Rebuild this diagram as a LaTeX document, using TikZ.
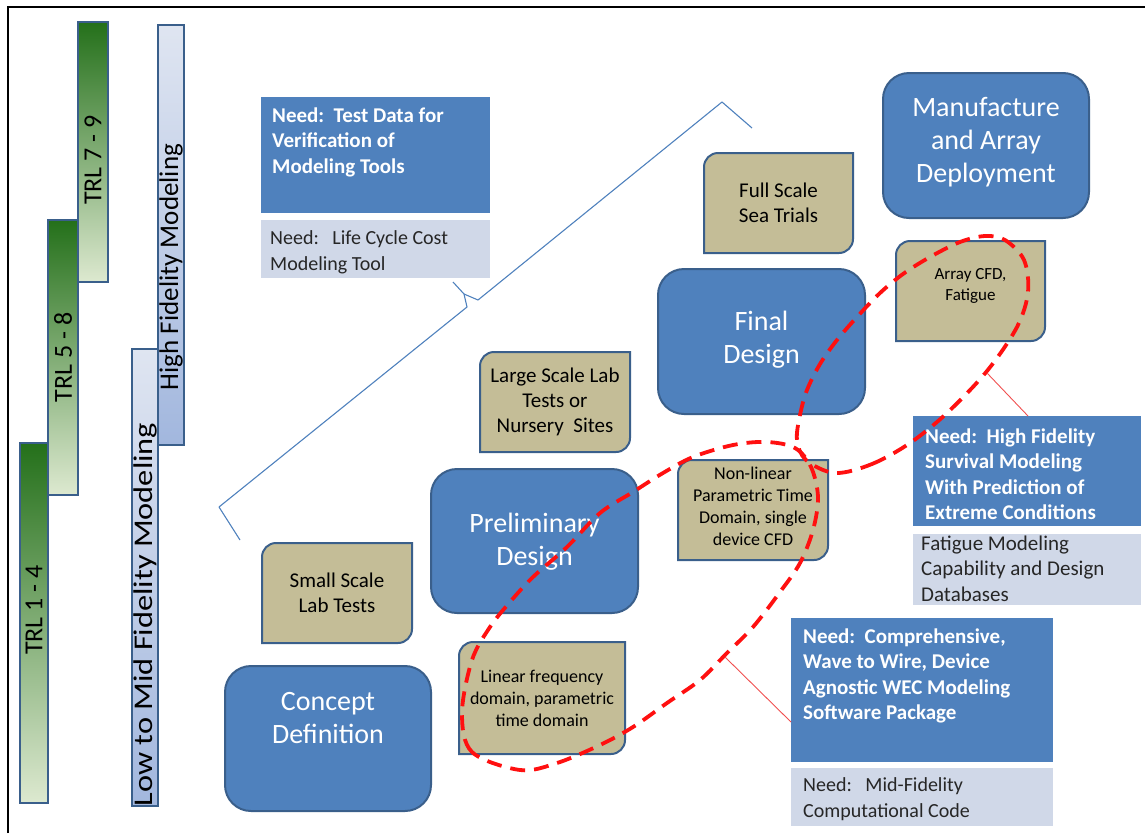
\documentclass[tikz,border=0pt]{standalone}
\usepackage{fontspec}
\setmainfont{Carlito}
\definecolor{wecblue}{HTML}{4F81BD}
\definecolor{edgeblue}{HTML}{3A5F8B}
\definecolor{tanfill}{HTML}{C4BD97}
\definecolor{lightneed}{HTML}{D0D8E8}
\definecolor{trldark}{HTML}{24701A}
\definecolor{trlmid}{HTML}{86AA62}
\definecolor{trllight}{HTML}{DDE9D0}
\definecolor{fidtop}{HTML}{DFE5F1}
\definecolor{fidbot}{HTML}{A2B7DE}
\definecolor{loopred}{HTML}{FF1010}
\definecolor{calloutred}{HTML}{F05050}
\newcommand\needpar[5]{\parbox[t][#2][t]{#1}{\leftskip=#3\relax\vspace*{#4}\strut #5}}
\newcommand\stagepar[4]{\parbox[t][#2][t]{#1}{\centering\vspace*{#3}\strut #4}}
\newcommand\tanbox[7]{%
  \draw[tanline] (#2,#5) -- (#2,#3+14) arc[start angle=180,end angle=270,radius=14]
     -- (#4,#3) -- (#4,#5-14) arc[start angle=0,end angle=90,radius=14] -- cycle;
  \node[tantext,#7] (#1) at ({(#2+#4)/2},{(#3+#5)/2}) {#6};}
\tikzset{
  stage/.style={draw=edgeblue, line width=2pt, fill=wecblue, rounded corners=26pt,
     text=white, font=\fontsize{28}{33}\selectfont, inner sep=0pt, anchor=north west},
  tanline/.style={draw=edgeblue, line width=2pt, fill=tanfill},
  tantext/.style={align=center, text=black, inner sep=0pt},
  bigtan/.style={font=\fontsize{21}{25}\selectfont},
  smalltan/.style={font=\fontsize{18}{22}\selectfont},
  needdark/.style={fill=wecblue, text=white, font=\bfseries\fontsize{21}{25.5}\selectfont,
     inner sep=0pt, anchor=north west},
  needlight/.style={fill=lightneed, text=black!85, font=\fontsize{20}{25.5}\selectfont,
     inner sep=0pt, anchor=north west},
  trlbar/.style={draw=edgeblue, line width=2.5pt, rotate=90, top color=trldark,
     middle color=trlmid, bottom color=trllight, font=\fontsize{26}{30}\selectfont, inner sep=0pt},
  fidbar/.style={draw=edgeblue, line width=2pt, rotate=90, top color=fidtop,
     bottom color=fidbot, font=\fontsize{27}{30}\selectfont, inner sep=0pt},
  redloop/.style={draw=loopred, line width=3.8pt, dash pattern=on 15pt off 9pt},
  callout/.style={draw=calloutred, line width=0.9pt},
  bracestroke/.style={draw=wecblue, line width=1.1pt, line join=round},
}
\begin{document}
\begin{tikzpicture}[x=1pt,y=-1pt]
\useasboundingbox (0,0) rectangle (1145,833);
% frame
\draw[line width=1.4pt] (8,833) -- (8,7) -- (1145,7);

% TRL bars
\node[trlbar, minimum width=360pt, minimum height=28pt] (trl14) at (34,623) {\hspace*{26pt}TRL 1 - 4};
\node[trlbar, minimum width=275pt, minimum height=30pt] (trl58) at (63,357.5) {TRL 5 - 8};
\node[trlbar, minimum width=260pt, minimum height=30pt] (trl79) at (93,152) {TRL 7 - 9\hspace*{16pt}};

% fidelity bars
\node[fidbar, minimum width=451pt, minimum height=26pt] (lowmid) at (145,577.5)
  {\scalebox{1.2}[1]{Low to Mid Fidelity Modeling}\hspace*{74pt}};
\node[fidbar, minimum width=420pt, minimum height=26pt] (highfid) at (171,235)
  {High Fidelity Modeling\hspace*{64pt}};

% brace
\coordinate (brA) at (240,540);
\coordinate (brB) at (752,128);
\draw[bracestroke] (brA) -- (219,507) -- (467,307) -- (464,294) -- (453,282);
\draw[bracestroke] (464,294) -- (478,300) -- (722,102) -- (brB);

% need boxes (upper left)
\node[needdark] (need1) at (261,97)
  {\needpar{229pt}{116pt}{11pt}{7pt}{Need:\ \ Test Data for\\Verification of\\Modeling Tools}};
\node[needlight] (need2) at (261,220)
  {\needpar{229pt}{58pt}{9pt}{6.6pt}{Need:\ \ \ Life Cycle Cost\\Modeling Tool}};

% tan boxes
\tanbox{small}{262}{543}{412}{643}{Small Scale\\Lab Tests}{bigtan}
\tanbox{large}{480}{352}{630}{452}{Large Scale Lab\\Tests or\\Nursery\ \ Sites}{bigtan}
\tanbox{full}{704}{153}{853}{253}{Full Scale\\Sea Trials}{bigtan}
\tanbox{linear}{459}{642}{625}{754}{Linear frequency\\domain, parametric\\time domain}{smalltan}
\tanbox{nonlin}{678}{460}{828}{560}{Non-linear\\Parametric Time\\Domain, single\\device CFD}{smalltan,yshift=4pt}
\tanbox{array}{896}{241}{1045}{341}{Array CFD,\\Fatigue}{font=\fontsize{17}{21}\selectfont,yshift=5pt}

% stage boxes
\node[stage] (concept) at (224,665) {\stagepar{206pt}{145pt}{21pt}{Concept\\Definition}};
\node[stage] (prelim) at (430,468) {\stagepar{207pt}{144pt}{40pt}{Preliminary\\Design}};
\node[stage] (final) at (657,268) {\stagepar{207pt}{145pt}{38pt}{Final\\Design}};
\node[stage] (manuf) at (882,72) {\stagepar{206pt}{145pt}{20pt}{Manufacture\\and Array\\Deployment}};

% need boxes (right)
\node[needdark] (need3) at (913,416)
  {\needpar{228pt}{110pt}{12pt}{9pt}{Need:\ \ High Fidelity\\Survival Modeling\\With Prediction of\\Extreme Conditions}};
\node[needlight, font=\fontsize{21}{25.5}\selectfont] (need4) at (913,534)
  {\needpar{228pt}{71pt}{8pt}{-2pt}{Fatigue Modeling\\Capability and Design\\Databases}};
\node[needdark] (need5) at (791,618)
  {\needpar{262pt}{144pt}{12pt}{7pt}{Need:\ \ Comprehensive,\\Wave to Wire, Device\\Agnostic WEC Modeling\\Software Package}};
\node[needlight] (need6) at (791,768)
  {\needpar{262pt}{58pt}{12pt}{5.6pt}{Need:\ \ \ Mid-Fidelity\\Computational Code}};

% red dashed loops
\draw[redloop] plot[smooth cycle, tension=0.55] coordinates {
  (520,770) (472,752) (462,713) (472,660) (490,627) (510,602) (533,577) (567,547)
  (600,513) (633,492) (663,473) (693,457) (733,445) (767,442) (795,448) (811,467)
  (818,497) (813,530) (800,563) (780,592) (753,627) (727,653) (700,680) (667,703)
  (633,727) (600,745) (557,763)};
\draw[redloop] plot[smooth cycle, tension=0.55] coordinates {
  (835,473) (872,464) (910,443) (947,413) (987,371) (1017,327) (1028,292) (1024,260)
  (1005,240) (985,236) (960,242) (930,257) (903,274) (880,293) (857,317) (837,340)
  (820,364) (807,390) (800,415) (797,440) (806,460)};

% callout lines
\coordinate (c1) at (987,373);
\coordinate (c2) at (725,657);
\draw[callout] (c1) -- ([xshift=115pt]need3.north west);
\draw[callout] (c2) -- ([yshift=-104pt]need5.north west);
\end{tikzpicture}
\end{document}
